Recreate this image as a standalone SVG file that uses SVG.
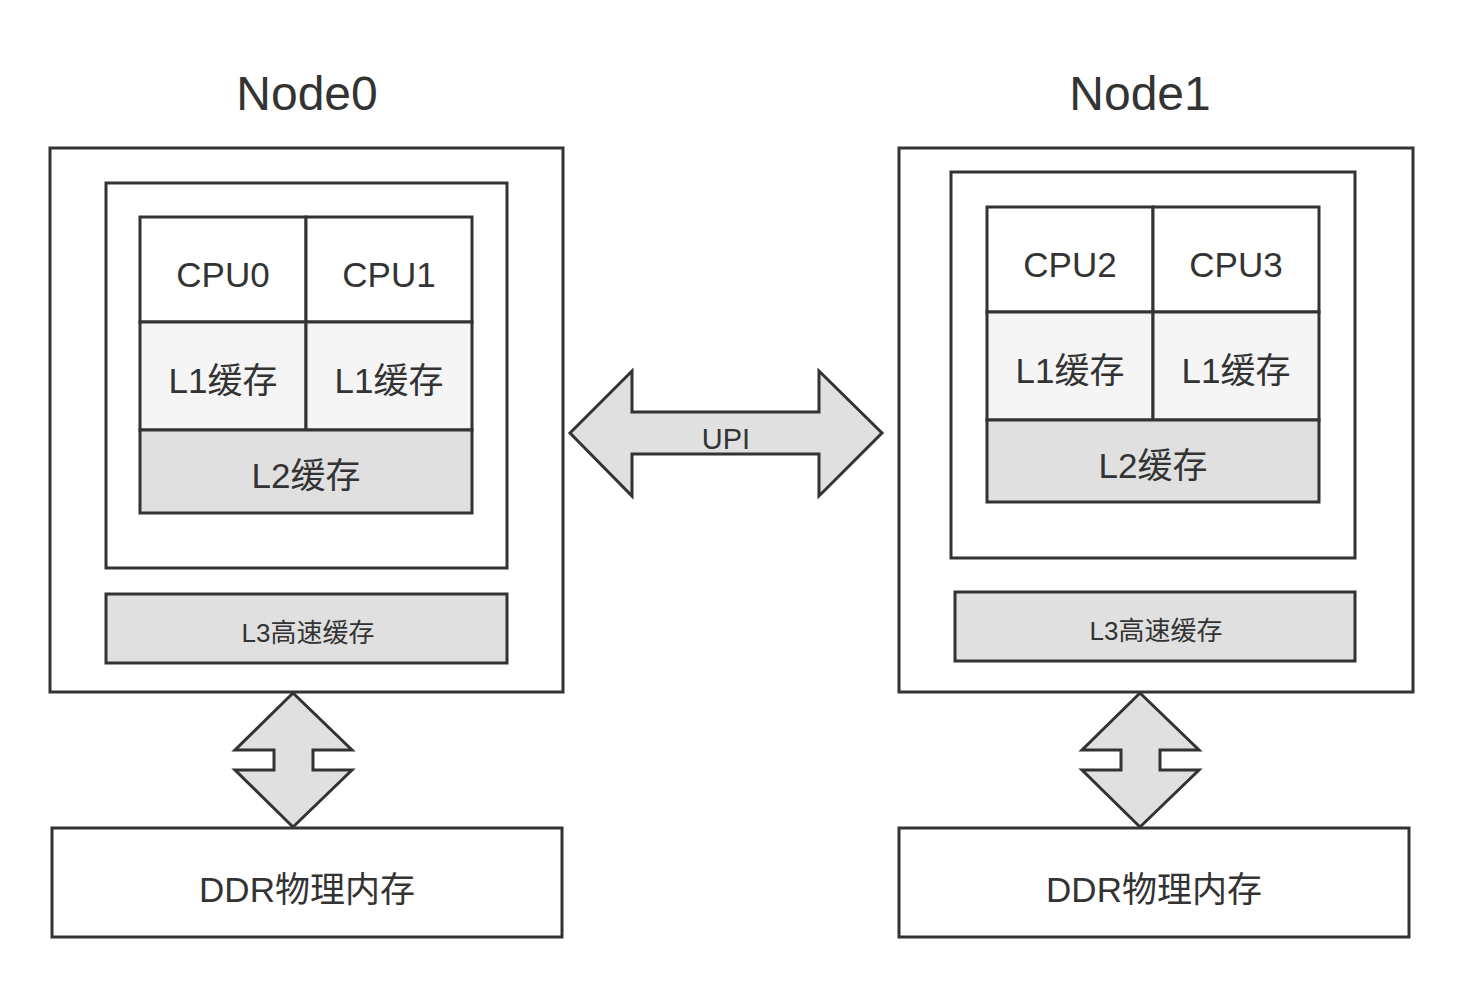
<svg xmlns="http://www.w3.org/2000/svg" width="1462" height="985" viewBox="0 0 1462 985">
<style>
.b{stroke:#333;stroke-width:3;fill:#fff}
.l1{fill:#f5f5f5}
.l2{fill:#e0e0e0}
.ar{fill:#e0e0e0;stroke:#333;stroke-width:3;stroke-linejoin:miter}
text{font-family:"Liberation Sans","Noto Sans CJK SC",sans-serif;fill:#333;text-anchor:middle}
.t{font-size:48px}
.m{font-size:35px}
.s{font-size:26px}
.u{font-size:29px}
</style>
<rect width="1462" height="985" fill="#fff"/>
<g id="node0">
<text class="t" x="307" y="110">Node0</text>
<rect class="b" x="50" y="148" width="513" height="544"/>
<rect class="b" x="106" y="183" width="401" height="385"/>
<rect class="b" x="140" y="217" width="166" height="105"/>
<rect class="b" x="306" y="217" width="166" height="105"/>
<rect class="b l1" x="140" y="322" width="166" height="108"/>
<rect class="b l1" x="306" y="322" width="166" height="108"/>
<rect class="b l2" x="140" y="430" width="332" height="83"/>
<text class="m" x="223" y="287">CPU0</text>
<text class="m" x="389" y="287">CPU1</text>
<text class="m" x="223" y="393">L1缓存</text>
<text class="m" x="389" y="393">L1缓存</text>
<text class="m" x="306" y="488">L2缓存</text>
<rect class="b l2" x="106" y="594" width="401" height="69"/>
<text class="s" x="308" y="642">L3高速缓存</text>
</g>
<g id="node1">
<text class="t" x="1140" y="110">Node1</text>
<rect class="b" x="899" y="148" width="514" height="544"/>
<rect class="b" x="951" y="172" width="404" height="386"/>
<rect class="b" x="987" y="207" width="166" height="105"/>
<rect class="b" x="1153" y="207" width="166" height="105"/>
<rect class="b l1" x="987" y="312" width="166" height="108"/>
<rect class="b l1" x="1153" y="312" width="166" height="108"/>
<rect class="b l2" x="987" y="420" width="332" height="82"/>
<text class="m" x="1070" y="277">CPU2</text>
<text class="m" x="1236" y="277">CPU3</text>
<text class="m" x="1070" y="383">L1缓存</text>
<text class="m" x="1236" y="383">L1缓存</text>
<text class="m" x="1153" y="478">L2缓存</text>
<rect class="b l2" x="955" y="592" width="400" height="69"/>
<text class="s" x="1156" y="640">L3高速缓存</text>
</g>
<g id="ddr0">
<rect class="b" x="52" y="828" width="510" height="109"/>
<text class="m" x="307" y="902">DDR物理内存</text>
</g>
<g id="ddr1">
<rect class="b" x="899" y="828" width="510" height="109"/>
<text class="m" x="1154" y="902">DDR物理内存</text>
</g>
<g id="connectors">
<polygon class="ar" points="570,433 632,371 632,412 819,412 819,371 882,433 819,496 819,454 632,454 632,496"/>
<text class="u" x="726" y="449">UPI</text>
<polygon class="ar" points="293,693 352,750 313,750 313,770 352,770 293,827 235,770 274,770 274,750 235,750"/>
<polygon class="ar" points="1140,693 1199,750 1160,750 1160,770 1199,770 1140,827 1082,770 1121,770 1121,750 1082,750"/>
</g>
</svg>
